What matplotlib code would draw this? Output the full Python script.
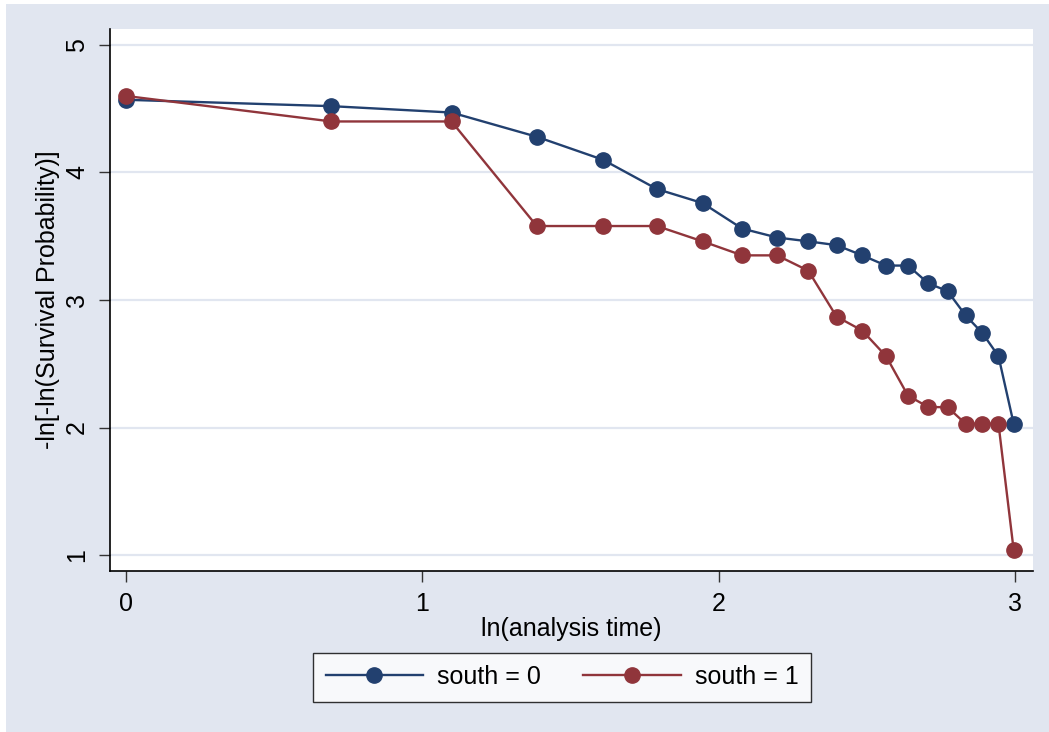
import numpy as np
import matplotlib.pyplot as plt
from matplotlib.patches import Rectangle

plt.rcParams['font.family'] = ['Liberation Sans', 'DejaVu Sans']

# analysis time t = 1..20, plotted on ln scale
t = np.arange(1, 21)
ln_t = np.log(t)

# -ln[-ln(S(t))] by group
south0 = [4.57, 4.52, 4.47, 4.28, 4.10, 3.87, 3.76, 3.56, 3.49, 3.46,
          3.43, 3.35, 3.27, 3.27, 3.13, 3.07, 2.88, 2.74, 2.56, 2.03]
south1 = [4.60, 4.40, 4.40, 3.58, 3.58, 3.58, 3.46, 3.35, 3.35, 3.23,
          2.87, 2.76, 2.56, 2.25, 2.16, 2.16, 2.03, 2.03, 2.03, 1.04]

xticks = [0, 1, 2, 3]
yticks = [1, 2, 3, 4, 5]

bg = '#E1E6F0'
blue = '#22406F'
red = '#90353B'

fig = plt.figure(figsize=(10.49, 7.32), dpi=100)
fig.patch.set_facecolor('white')
fig.patches.append(Rectangle((6 / 1049, 0), 1 - 6 / 1049, 1 - 4 / 732,
                             transform=fig.transFigure, facecolor=bg,
                             edgecolor='none', zorder=-10))

ax = fig.add_axes([110 / 1049, 161 / 732, 923 / 1049, 542 / 732])
ax.set_facecolor('white')

for y in yticks:
    ax.axhline(y, color=bg, lw=1.6, zorder=0)

ax.plot(ln_t, south0, color=blue, lw=1.7, marker='o', ms=11,
        label='south = 0', zorder=3)
ax.plot(ln_t, south1, color=red, lw=1.7, marker='o', ms=11,
        label='south = 1', zorder=3)

ax.set_xlim(-0.054, 3.061)
ax.set_ylim(0.875, 5.125)
ax.set_xticks(xticks)
ax.set_yticks(yticks)

for s in ['top', 'right']:
    ax.spines[s].set_visible(False)
for s in ['left', 'bottom']:
    ax.spines[s].set_linewidth(1.2)
    ax.spines[s].set_color('black')

ax.tick_params(axis='both', length=8, width=1.0, color='#333333',
               labelsize=18, pad=7)
for lab in ax.get_yticklabels():
    lab.set_rotation(90)
    lab.set_va('center')

ax.set_xlabel('ln(analysis time)', fontsize=18, labelpad=1)
ax.set_ylabel('-ln[-ln(Survival Probability)]', fontsize=18, labelpad=4)

leg = ax.legend(loc='center', bbox_to_anchor=(562 / 1049, 55 / 732),
                bbox_transform=fig.transFigure, ncol=2, fontsize=18,
                frameon=True, fancybox=False, handlelength=3.9,
                handletextpad=0.55, columnspacing=1.7, borderpad=0.5,
                borderaxespad=0)
leg.get_frame().set_edgecolor('black')
leg.get_frame().set_linewidth(1.0)

fig.savefig('out.png', dpi=100, facecolor=fig.get_facecolor())
